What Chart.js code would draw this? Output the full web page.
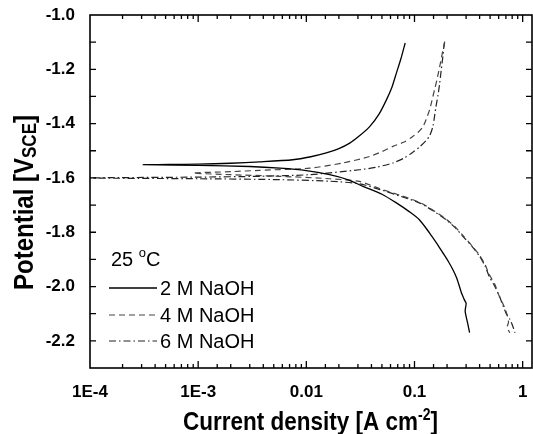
<!DOCTYPE html>
<html>
<head>
<meta charset="utf-8">
<script src="https://cdn.jsdelivr.net/npm/chart.js@4.4.1/dist/chart.umd.min.js"></script>
<style>
  html, body { margin: 0; padding: 0; background: #fff; }
</style>
</head>
<body>
<canvas id="tafel" width="533" height="434"></canvas>
<script>
// tick labels
const xDecades = [1e-4, 1e-3, 1e-2, 1e-1, 1];
const xTickLabels = ['1E-4', '1E-3', '0.01', '0.1', '1'];
const yTickValues = [-1.0, -1.2, -1.4, -1.6, -1.8, -2.0, -2.2];
const yTickLabels = ['-1.0', '-1.2', '-1.4', '-1.6', '-1.8', '-2.0', '-2.2'];

const seriesNames = ['2 M NaOH', '4 M NaOH', '6 M NaOH'];

// 2 M NaOH: anodic top -> corrosion point -> cathodic end
const current2M = [0.082, 0.075, 0.068, 0.062, 0.055, 0.047, 0.0385, 0.031, 0.0252, 0.02, 0.0153, 0.011,
  0.0075, 0.0037, 0.002, 0.001, 0.00031, 0.001, 0.003, 0.0057, 0.01, 0.0164, 0.024, 0.0334, 0.05, 0.068,
  0.09, 0.111, 0.138, 0.16, 0.183, 0.205, 0.226, 0.245, 0.26, 0.27, 0.28, 0.29, 0.30, 0.294, 0.30, 0.31, 0.323];
const potential2M = [-1.103, -1.16, -1.214, -1.265, -1.3125, -1.365, -1.411, -1.445, -1.472, -1.492, -1.508, -1.522,
  -1.533, -1.541, -1.546, -1.549, -1.551, -1.554, -1.558, -1.564, -1.573, -1.588, -1.606, -1.631, -1.66, -1.692,
  -1.725, -1.754, -1.803, -1.84, -1.876, -1.907, -1.9375, -1.968, -1.999, -2.02, -2.036, -2.05, -2.062, -2.09, -2.11, -2.135, -2.17];

// 4 M NaOH
const current4M = [0.19, 0.18, 0.171, 0.162, 0.153, 0.145, 0.138, 0.128, 0.12, 0.108, 0.0966, 0.08, 0.063, 0.05,
  0.0385, 0.0218, 0.0107, 0.0037, 0.002, 0.0009, 0.002, 0.0057, 0.0164, 0.031, 0.048, 0.075, 0.111, 0.15, 0.196,
  0.24, 0.28, 0.34, 0.40, 0.45, 0.49, 0.55, 0.60, 0.65, 0.70, 0.74, 0.72, 0.76];
const potential4M = [-1.098, -1.145, -1.19, -1.235, -1.276, -1.315, -1.349, -1.385, -1.411, -1.432, -1.447, -1.468,
  -1.484, -1.503, -1.521, -1.545, -1.564, -1.572, -1.577, -1.582, -1.588, -1.594, -1.603, -1.613, -1.64, -1.665,
  -1.69, -1.72, -1.752, -1.782, -1.812, -1.85, -1.885, -1.92, -1.955, -1.99, -2.03, -2.06, -2.09, -2.13, -2.15, -2.17];

// 6 M NaOH
const current6M = [0.19, 0.186, 0.183, 0.177, 0.171, 0.165, 0.158, 0.148, 0.138, 0.128, 0.112, 0.0966, 0.08, 0.063,
  0.045, 0.031, 0.0107, 0.0037, 0.001, 0.00009, 0.001, 0.005, 0.0164, 0.031, 0.048, 0.075, 0.111, 0.15, 0.196,
  0.24, 0.28, 0.34, 0.40, 0.45, 0.49, 0.55, 0.61, 0.70, 0.76, 0.81, 0.85];
const potential6M = [-1.10, -1.125, -1.153, -1.20, -1.251, -1.295, -1.337, -1.41, -1.445, -1.462, -1.485, -1.505,
  -1.527, -1.545, -1.56, -1.57, -1.588, -1.594, -1.597, -1.600, -1.603, -1.606, -1.612, -1.622, -1.643, -1.668,
  -1.692, -1.722, -1.754, -1.785, -1.815, -1.852, -1.889, -1.925, -1.962, -1.998, -2.036, -2.097, -2.12, -2.146, -2.17];

const toPoints = (xs, ys) => xs.map((v, i) => ({ x: v, y: ys[i] }));

const FONT = '"Liberation Sans", Arial, sans-serif';

function isDecade(v) {
  const l = Math.log10(v);
  return Math.abs(l - Math.round(l)) < 1e-6;
}

// inward ticks on all four sides + frame
const frameTicks = {
  id: 'frameTicks',
  afterDatasetsDraw(chart) {
    const { ctx, chartArea: a } = chart;
    const x = chart.scales.x, y = chart.scales.y;
    ctx.save();
    ctx.strokeStyle = '#000';
    ctx.lineWidth = 1.3;
    ctx.beginPath();
    x.ticks.forEach(t => {
      const px = x.getPixelForValue(t.value);
      if (px < a.left + 1 || px > a.right - 1) return;
      const len = isDecade(t.value) ? 7 : 4;
      ctx.moveTo(px, a.bottom); ctx.lineTo(px, a.bottom - len);
      ctx.moveTo(px, a.top); ctx.lineTo(px, a.top + len);
    });
    y.ticks.forEach(t => {
      const py = y.getPixelForValue(t.value);
      if (py < a.top + 1 || py > a.bottom - 1) return;
      ctx.moveTo(a.left, py); ctx.lineTo(a.left + 6, py);
      ctx.moveTo(a.right, py); ctx.lineTo(a.right - 6, py);
    });
    ctx.stroke();
    ctx.lineWidth = 1.6;
    ctx.strokeRect(a.left, a.top, a.right - a.left, a.bottom - a.top);
    ctx.restore();
  }
};

// draws runs of text with sub/superscripts
function drawRuns(ctx, runs, x, y) {
  let cx = x;
  runs.forEach(r => {
    ctx.font = (r.bold ? 'bold ' : '') + r.size + 'px ' + FONT;
    ctx.fillText(r.t, cx, y + (r.dy || 0));
    cx += ctx.measureText(r.t).width + (r.gap || 0);
  });
  return cx - x;
}

const annotations = {
  id: 'annotations',
  afterDraw(chart) {
    const { ctx } = chart;
    ctx.save();
    ctx.fillStyle = '#000';
    ctx.textBaseline = 'alphabetic';

    // x title
    ctx.save();
    ctx.translate(183, 430);
    ctx.scale(1, 1.15);
    drawRuns(ctx, [
      { t: 'Current density [A cm', size: 22.5, bold: true },
      { t: '-2', size: 14, bold: true, dy: -9 },
      { t: ']', size: 22.5, bold: true }
    ], 0, 0);
    ctx.restore();

    // y title
    ctx.save();
    ctx.translate(33, 290);
    ctx.rotate(-Math.PI / 2);
    ctx.scale(1, 1.15);
    drawRuns(ctx, [
      { t: 'Potential [V', size: 24, bold: true },
      { t: 'SCE', size: 17, bold: true, dy: 3 },
      { t: ']', size: 24, bold: true }
    ], 0, 0);
    ctx.restore();

    // legend
    drawRuns(ctx, [
      { t: '25 ', size: 20 },
      { t: 'o', size: 13, dy: -9 },
      { t: 'C', size: 20 }
    ], 111, 266);
    const rowsY = [288, 315, 341];
    chart.data.datasets.forEach((ds, i) => {
      ctx.save();
      ctx.strokeStyle = ds.borderColor;
      ctx.lineWidth = ds.borderWidth;
      ctx.setLineDash(ds.borderDash || []);
      ctx.beginPath();
      ctx.moveTo(109, rowsY[i]);
      ctx.lineTo(157, rowsY[i]);
      ctx.stroke();
      ctx.restore();
      ctx.font = '20px ' + FONT;
      ctx.fillText(ds.label, 160, rowsY[i] + 7);
    });
    ctx.restore();
  }
};

new Chart(document.getElementById('tafel'), {
  type: 'scatter',
  data: {
    datasets: [
      { label: seriesNames[0], data: toPoints(current2M, potential2M), borderColor: '#000', borderWidth: 1.3, borderDash: [] },
      { label: seriesNames[1], data: toPoints(current4M, potential4M), borderColor: '#444', borderWidth: 1.2, borderDash: [6, 4] },
      { label: seriesNames[2], data: toPoints(current6M, potential6M), borderColor: '#222', borderWidth: 1.2, borderDash: [7, 3, 1.5, 3] }
    ]
  },
  options: {
    responsive: false,
    animation: false,
    showLine: true,
    elements: { point: { radius: 0 }, line: { tension: 0.25, fill: false } },
    layout: { padding: { left: 0, top: 15, right: 1, bottom: 0 } },
    plugins: { legend: { display: false }, tooltip: { enabled: false } },
    scales: {
      x: {
        type: 'logarithmic',
        min: 1e-4,
        max: 1.22,
        grid: { display: false },
        border: { display: false },
        afterFit: s => { s.height = 66; s.paddingLeft = 0; s.paddingRight = 0; },
        ticks: {
          autoSkip: false,
          maxRotation: 0,
          padding: 6,
          color: '#000',
          font: { family: FONT, size: 17, weight: 'bold' },
          callback: v => {
            if (!isDecade(v)) return '';
            const i = xDecades.findIndex(d => Math.abs(Math.log10(d) - Math.log10(v)) < 1e-6);
            return i >= 0 ? xTickLabels[i] : '';
          }
        }
      },
      y: {
        min: -2.3,
        max: -1.0,
        grid: { display: false },
        border: { display: false },
        afterFit: s => { s.width = 90; s.paddingTop = 0; s.paddingBottom = 0; },
        ticks: {
          stepSize: 0.1,
          padding: 7,
          color: '#000',
          font: { family: FONT, size: 17, weight: 'bold' },
          callback: v => {
            const i = yTickValues.findIndex(t => Math.abs(t - v) < 1e-6);
            return i >= 0 ? yTickLabels[i] : '';
          }
        }
      }
    }
  },
  plugins: [frameTicks, annotations]
});
</script>
</body>
</html>
